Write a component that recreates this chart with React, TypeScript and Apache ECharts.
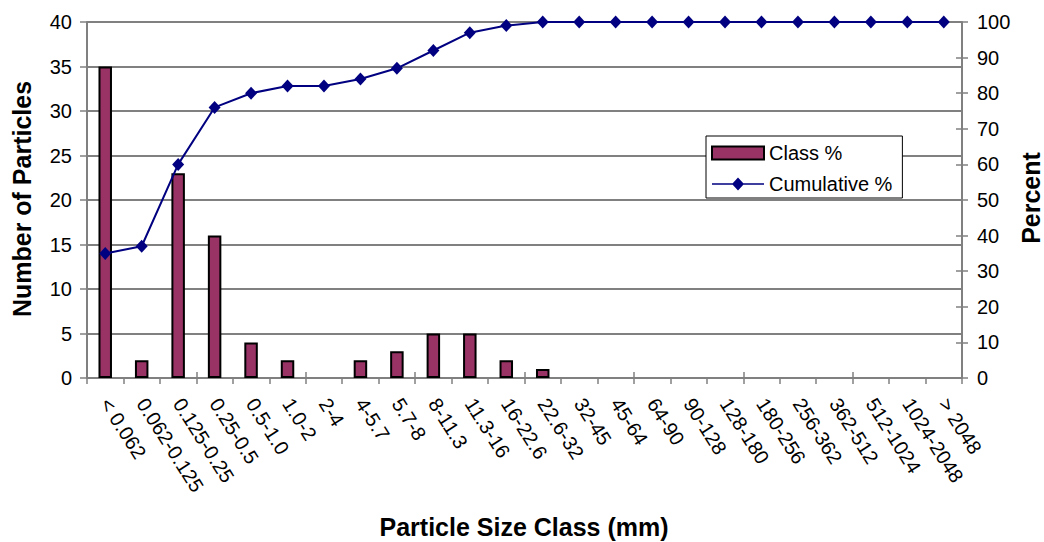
import React, { useEffect, useRef } from "react";
import * as echarts from "echarts";

const categories = [
  "< 0.062", "0.062-0.125", "0.125-0.25", "0.25-0.5", "0.5-1.0", "1.0-2", "2-4", "4-5.7",
  "5.7-8", "8-11.3", "11.3-16", "16-22.6", "22.6-32", "32-45", "45-64", "64-90",
  "90-128", "128-180", "180-256", "256-362", "362-512", "512-1024", "1024-2048", "> 2048",
];
const classCounts = [35, 2, 23, 16, 4, 2, 0, 2, 3, 5, 5, 2, 1, 0, 0, 0, 0, 0, 0, 0, 0, 0, 0, 0];
const cumulativePct = [35, 37, 60, 76, 80, 82, 82, 84, 87, 92, 97, 99, 100, 100, 100, 100, 100, 100, 100, 100, 100, 100, 100, 100];

const xTitle = "Particle Size Class (mm)";
const yLeftTitle = "Number of Particles";
const yRightTitle = "Percent";

const FONT = "'Liberation Sans', Arial, sans-serif";
const GRAY = "#808080";
const LINE_ICON = "path://M0,5.8 L52,5.8 L52,7.2 L0,7.2 Z M26,0 L32,6.5 L26,13 L20,6.5 Z";

export default function App() {
  const ref = useRef<HTMLDivElement>(null);
  useEffect(() => {
    document.body.style.margin = "0";
    const chart = echarts.init(ref.current!, null, { renderer: "svg" });
    const titleStyle = { fontSize: 25, fontWeight: "bold", fill: "#000", fontFamily: FONT, align: "center", verticalAlign: "middle", lineHeight: 22 };
    chart.setOption({
      animation: false,
      backgroundColor: "#ffffff",
      textStyle: { fontFamily: FONT },
      grid: { left: 87, right: 82, top: 22, bottom: 164, containLabel: false },
      legend: {
        orient: "vertical",
        left: 706,
        top: 136,
        backgroundColor: "#ffffff",
        borderColor: "#000000",
        borderWidth: 1,
        borderRadius: 0,
        padding: [7, 10, 4, 5],
        itemGap: 11,
        itemWidth: 52,
        itemHeight: 13,
        textStyle: { fontSize: 20, color: "#000", fontFamily: FONT },
        data: [
          { name: "Class %", icon: "rect" },
          { name: "Cumulative %", icon: LINE_ICON },
        ],
      },
      graphic: [
        { type: "text", x: 524, y: 527, silent: true, style: { ...titleStyle, text: xTitle } },
        { type: "text", x: 22, y: 199, rotation: Math.PI / 2, silent: true, style: { ...titleStyle, text: yLeftTitle } },
        { type: "text", x: 1031, y: 198, rotation: Math.PI / 2, silent: true, style: { ...titleStyle, text: yRightTitle } },
      ],
      xAxis: [
        {
          type: "category",
          data: categories,
          boundaryGap: true,
          axisLine: { show: true, lineStyle: { color: GRAY, width: 2 } },
          axisTick: { show: true, length: 6, lineStyle: { color: GRAY, width: 1.5 } },
          axisLabel: {
            interval: 0,
            rotate: -57.6,
            fontSize: 20,
            color: "#000",
            fontFamily: FONT,
            margin: 22,
            padding: [21, 0, 0, 0],
          },
        },
        {
          type: "category",
          data: categories,
          boundaryGap: true,
          position: "bottom",
          axisLine: { show: false },
          axisTick: { show: true, inside: true, length: 6, lineStyle: { color: GRAY, width: 1.5 } },
          axisLabel: { show: false },
          splitLine: { show: false },
        },
      ],
      yAxis: [
        {
          type: "value",
          min: 0,
          max: 40,
          interval: 5,
          position: "left",
          axisLine: { show: true, lineStyle: { color: GRAY, width: 2 } },
          axisTick: { show: true, length: 7, lineStyle: { color: GRAY, width: 1.5 } },
          axisLabel: { fontSize: 20, color: "#000", fontFamily: FONT, margin: 15 },
          splitLine: { show: true, lineStyle: { color: GRAY, width: 2 } },
        },
        {
          type: "value",
          min: 0,
          max: 100,
          interval: 10,
          position: "right",
          axisLine: { show: true, lineStyle: { color: GRAY, width: 2 } },
          axisTick: { show: true, length: 6, lineStyle: { color: GRAY, width: 1.5 } },
          axisLabel: { fontSize: 20, color: "#000", fontFamily: FONT, margin: 15 },
          splitLine: { show: false },
        },
        {
          type: "value",
          min: 0,
          max: 100,
          interval: 10,
          position: "right",
          axisLine: { show: false },
          axisTick: { show: true, inside: true, length: 6, lineStyle: { color: GRAY, width: 1.5 } },
          axisLabel: { show: false },
          splitLine: { show: false },
        },
      ],
      series: [
        {
          name: "Class %",
          type: "bar",
          xAxisIndex: 0,
          yAxisIndex: 0,
          data: classCounts.map((v) => (v === 0 ? null : v)),
          barWidth: "37%",
          itemStyle: { color: "#993366", borderColor: "#000000", borderWidth: 2 },
        },
        {
          name: "Cumulative %",
          type: "line",
          xAxisIndex: 0,
          yAxisIndex: 1,
          data: cumulativePct,
          symbol: "diamond",
          symbolSize: [12, 13],
          lineStyle: { color: "#000080", width: 2 },
          itemStyle: { color: "#000080" },
        },
      ],
    });
    return () => chart.dispose();
  }, []);
  return <div ref={ref} style={{ width: 1044, height: 542 }} />;
}
